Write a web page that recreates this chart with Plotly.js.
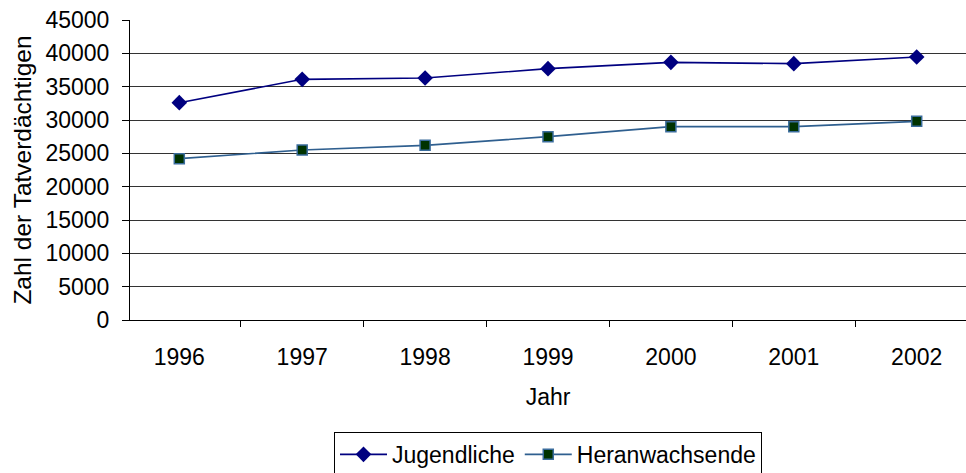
<!DOCTYPE html>
<html>
<head>
<meta charset="utf-8">
<script src="https://cdn.plot.ly/plotly-3.0.1.min.js"></script>
<style>html,body{margin:0;padding:0;background:#fff;}#chart{width:966px;height:473px;}</style>
</head>
<body>
<div id="chart"></div>
<script>
var years = ["1996", "1997", "1998", "1999", "2000", "2001", "2002"];
var jugendliche = [32600, 36100, 36300, 37700, 38650, 38450, 39450];
var heranwachsende = [24200, 25500, 26200, 27500, 29000, 29000, 29800];
var yTicks = [0, 5000, 10000, 15000, 20000, 25000, 30000, 35000, 40000, 45000];

var FONT = "Liberation Sans, Arial, sans-serif";
var SIZE = 23;

var traces = [
  {
    x: years, y: jugendliche, name: "Jugendliche", type: "scatter", mode: "lines+markers",
    line: {color: "#000080", width: 1.6},
    marker: {symbol: "diamond", size: 12, color: "#000080", line: {width: 0}}
  },
  {
    x: years, y: heranwachsende, name: "Heranwachsende", type: "scatter", mode: "lines+markers",
    line: {color: "#2f5f8f", width: 1.6},
    marker: {symbol: "square", size: 10, color: "#003300", line: {width: 1.5, color: "#3a6c9c"}}
  }
];

var layout = {
  width: 966, height: 473,
  margin: {l: 130, r: 0, t: 20, b: 153, autoexpand: false},
  paper_bgcolor: "#ffffff", plot_bgcolor: "#ffffff",
  font: {family: FONT, size: SIZE, color: "#000"},
  showlegend: true,
  xaxis: {
    type: "category",
    tickson: "boundaries",
    ticks: "outside", ticklen: 6, tickcolor: "#000", tickwidth: 1,
    ticklabelstandoff: 16,
    showgrid: false, showline: true, linecolor: "#000", linewidth: 1,
    zeroline: false,
    tickfont: {family: FONT, size: SIZE, color: "#000"},
    title: {text: "Jahr", font: {family: FONT, size: SIZE, color: "#000"}, standoff: 20}
  },
  yaxis: {
    range: [0, 45000],
    tickvals: yTicks,
    ticktext: yTicks.map(String),
    ticks: "outside", ticklen: 7, tickcolor: "#000", tickwidth: 1,
    ticklabelstandoff: 8,
    showgrid: true, gridcolor: "#333", gridwidth: 1,
    showline: true, linecolor: "#000", linewidth: 1,
    zeroline: false,
    tickfont: {family: FONT, size: SIZE, color: "#000"},
    title: {text: "Zahl der Tatverdächtigen", font: {family: FONT, size: 24.5, color: "#000"}, standoff: 6}
  },
  legend: {
    orientation: "h",
    x: 0.5, xanchor: "center",
    y: -0.373, yanchor: "top",
    bordercolor: "#000", borderwidth: 1,
    bgcolor: "#fff",
    font: {family: FONT, size: SIZE, color: "#000"},
    itemwidth: 47
  }
};

Plotly.newPlot("chart", traces, layout, {displayModeBar: false, staticPlot: true});
</script>
</body>
</html>
